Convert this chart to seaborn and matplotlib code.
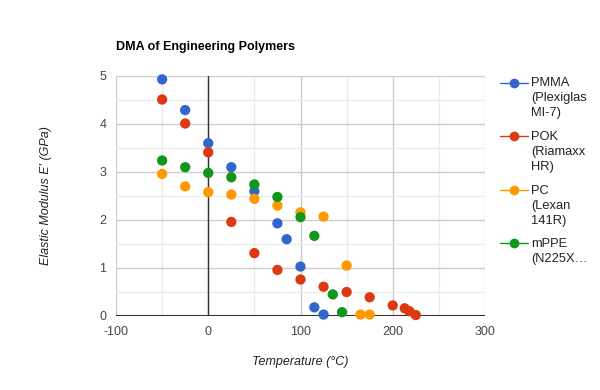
import pandas as pd
import matplotlib
matplotlib.use("Agg")
import matplotlib.pyplot as plt
import seaborn as sns
from matplotlib.lines import Line2D
from matplotlib.ticker import MultipleLocator

# DATA

pmma_t = [-50, -25, 0, 25, 50, 75, 85, 100, 115, 125]
pmma_e = [4.93, 4.29, 3.60, 3.10, 2.60, 1.93, 1.60, 1.03, 0.18, 0.03]

pok_t = [-50, -25, 0, 25, 50, 75, 100, 125, 150, 175, 200, 213, 218, 225]
pok_e = [4.51, 4.01, 3.41, 1.96, 1.31, 0.96, 0.76, 0.61, 0.50, 0.39, 0.22, 0.16, 0.10, 0.02]

pc_t = [-50, -25, 0, 25, 50, 75, 100, 125, 150, 165, 175]
pc_e = [2.96, 2.70, 2.58, 2.53, 2.44, 2.30, 2.16, 2.07, 1.05, 0.03, 0.03]

mppe_t = [-50, -25, 0, 25, 50, 75, 100, 115, 135, 145]
mppe_e = [3.24, 3.10, 2.98, 2.89, 2.74, 2.48, 2.06, 1.67, 0.45, 0.08]

series = ["PMMA (Plexiglas MI-7)", "POK (Riamaxx HR)", "PC (Lexan 141R)", "mPPE (N225X…"]
legend_labels = ["PMMA\n(Plexiglas\nMI-7)", "POK\n(Riamaxx\nHR)", "PC\n(Lexan\n141R)", "mPPE\n(N225X…"]
colors = ["#3366cc", "#dc3912", "#ff9900", "#109618"]

x_ticks = [-100, 0, 100, 200, 300]
y_ticks = [0, 1, 2, 3, 4, 5]

# BUILD TABLE

frames = []
for name, t, e in zip(series, [pmma_t, pok_t, pc_t, mppe_t], [pmma_e, pok_e, pc_e, mppe_e]):
    frames.append(pd.DataFrame({"Temperature": t, "Modulus": e, "Polymer": name}))
df = pd.concat(frames, ignore_index=True)

# PLOT

sns.set_style("white")
plt.rcParams["font.family"] = ["Liberation Sans", "DejaVu Sans"]
plt.rcParams["axes.unicode_minus"] = False

W, H = 600, 390
fig = plt.figure(figsize=(6, 3.9), dpi=100)
ax = fig.add_axes([116 / W, 1 - 316 / H, (485 - 116) / W, (316 - 76) / H])

ax.set_xlim(-100, 300)
ax.set_ylim(0, 5)
ax.xaxis.set_minor_locator(MultipleLocator(50))
ax.yaxis.set_minor_locator(MultipleLocator(0.5))
ax.set_xticks(x_ticks)
ax.set_yticks(y_ticks)
ax.grid(which="major", color="#cccccc", linewidth=1)
ax.grid(which="minor", color="#ebebeb", linewidth=1)
ax.set_axisbelow(True)
ax.axvline(0, color="#333333", linewidth=1, zorder=1.5)
ax.axhline(0, color="#333333", linewidth=1.5, zorder=1.5)
for s in ax.spines.values():
    s.set_visible(False)

sns.scatterplot(
    data=df,
    x="Temperature",
    y="Modulus",
    hue="Polymer",
    palette=colors,
    s=55,
    linewidth=0,
    legend=False,
    ax=ax,
    zorder=3,
    clip_on=False
)

ax.tick_params(which="both", length=0, labelsize=9, labelcolor="#444444", pad=7)
ax.set_xlabel("")
ax.set_ylabel("")
fig.text(300 / W, 1 - 362 / H, "Temperature (°C)", fontsize=9, style="italic",
         color="#222222", ha="center", va="center")
fig.text(46 / W, 1 - 196 / H, "Elastic Modulus E′ (GPa)", fontsize=9, style="italic",
         color="#222222", ha="center", va="center", rotation=90)

fig.text(116 / W, 1 - 47 / H, "DMA of Engineering Polymers", fontsize=9, fontweight="bold",
         color="#000000", va="center")

# LEGEND (drawn by hand to match the wrapped layout)

y0 = 82.5
line_px = 15.7
for label, c in zip(legend_labels, colors):
    fig.add_artist(Line2D([500 / W, 528 / W], [1 - y0 / H, 1 - y0 / H], color=c,
                          linewidth=1, marker=None, transform=fig.transFigure))
    fig.add_artist(Line2D([514 / W], [1 - y0 / H], color=c, marker="o", markersize=7,
                          markeredgewidth=0, transform=fig.transFigure))
    fig.text(531 / W, 1 - (y0 - 5) / H, label, fontsize=9.3, color="#222222",
             va="top", ha="left", linespacing=1.33)
    y0 += (label.count("\n") + 1) * line_px + 6.5

plt.savefig("out.png", dpi=100)
